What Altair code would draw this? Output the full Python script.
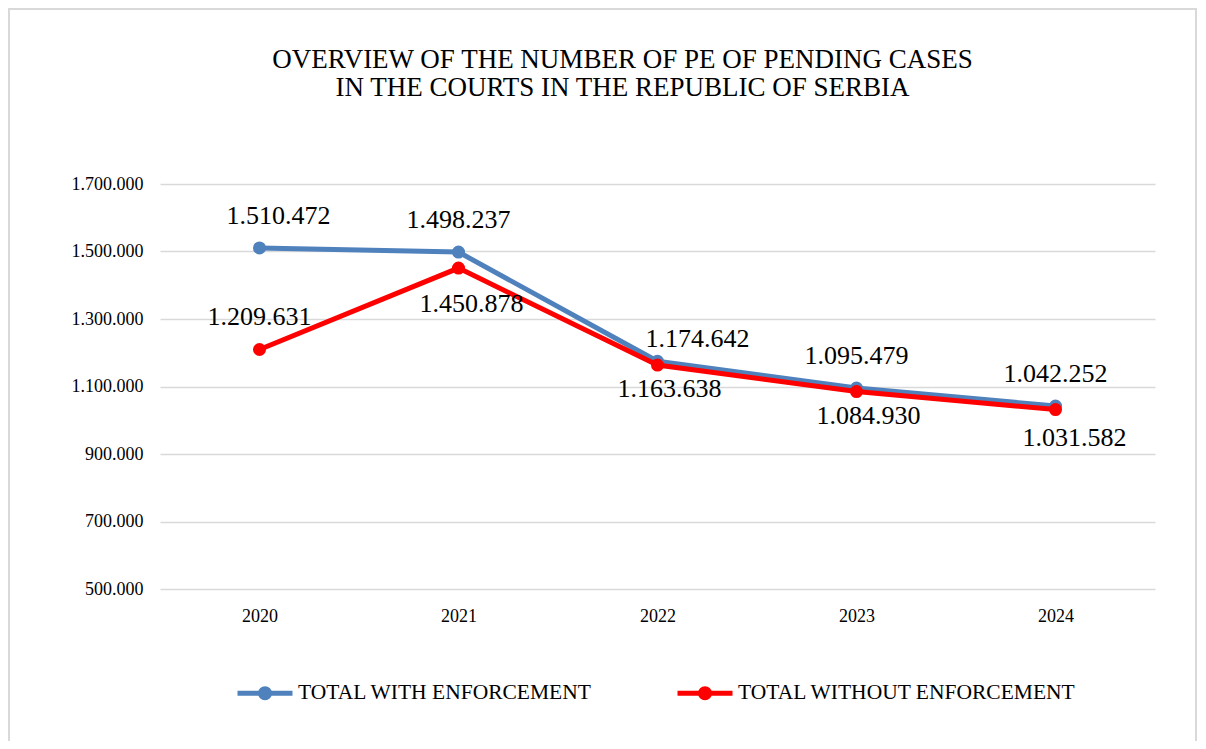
import altair as alt
import pandas as pd

years = ["2020", "2021", "2022", "2023", "2024"]
with_enforcement = [1510472, 1498237, 1174642, 1095479, 1042252]
without_enforcement = [1209631, 1450878, 1163638, 1084930, 1031582]
series_names = ["TOTAL WITH ENFORCEMENT", "TOTAL WITHOUT ENFORCEMENT"]
series_colors = ["#4F81BD", "#FF0000"]
y_ticks = [500000, 700000, 900000, 1100000, 1300000, 1500000, 1700000]
title_lines = ["OVERVIEW OF THE NUMBER OF PE OF PENDING CASES",
               "IN THE COURTS IN THE REPUBLIC OF SERBIA"]

rows = []
for name, vals in zip(series_names, [with_enforcement, without_enforcement]):
    for yr, v in zip(years, vals):
        rows.append({"year": yr, "value": v, "series": name})
df = pd.DataFrame(rows)

FONT = "Liberation Serif"
W, H = 995, 405

color = alt.Color(
    "series:N",
    scale=alt.Scale(domain=series_names, range=series_colors),
    legend=alt.Legend(
        title=None, orient="none", direction="horizontal",
        legendX=75, legendY=479, padding=0,
        symbolType="M-1,0L1,0M-0.09,0A0.09,0.09 0 1,1 0.09,0A0.09,0.09 0 1,1 -0.09,0M-0.165,0A0.165,0.165 0 1,1 0.165,0A0.165,0.165 0 1,1 -0.165,0",
        symbolSize=3025, symbolStrokeWidth=5, symbolFillColor="transparent",
        labelFont=FONT, labelFontSize=21.5, labelColor="#000000", labelLimit=600,
        labelOffset=3, columnPadding=74,
    ),
)
color_nolegend = alt.Color("series:N", scale=alt.Scale(domain=series_names, range=series_colors), legend=None)

x = alt.X("year:O", scale=alt.Scale(type="point", padding=0.5), title=None,
          axis=alt.Axis(labelAngle=0, domain=False, ticks=False, grid=False,
                        labelFont=FONT, labelFontSize=18, labelColor="#000000", labelPadding=18))
y = alt.Y("value:Q", scale=alt.Scale(domain=[500000, 1700000], nice=False, zero=False), title=None,
          axis=alt.Axis(values=y_ticks, domain=False, ticks=False, grid=True, gridColor="#d9d9d9",
                        gridWidth=1.5, labelFont=FONT, labelFontSize=18, labelColor="#000000",
                        labelPadding=17,
                        labelExpr="replace(replace(format(datum.value, ',d'), ',', '.'), ',', '.')"))

base = alt.Chart(df)

def series_layers(name, first):
    d = base.transform_filter(alt.datum.series == name)
    line = d.mark_line(strokeWidth=5).encode(x=x, y=y, color=color if first else color_nolegend)
    pts = d.mark_point(filled=True, size=170, opacity=1).encode(x=x, y=y, color=color_nolegend)
    return [line, pts]

def label_layer(name, yrs, dx, dy):
    yr_list = ",".join("'%s'" % v for v in yrs)
    expr = "datum.series === '%s' && indexof([%s], datum.year) >= 0" % (name, yr_list)
    return base.transform_filter(expr).transform_calculate(
        lab="replace(replace(format(datum.value, ',d'), ',', '.'), ',', '.')"
    ).mark_text(font=FONT, fontSize=26, color="#000000", baseline="middle", dx=dx, dy=dy).encode(
        x=x, y=y, text="lab:N")

frame = alt.Chart(pd.DataFrame({"a": [0]})).mark_rect(
    fill="transparent", stroke="#d9d9d9", strokeWidth=2
).encode(x=alt.value(-151), x2=alt.value(1036), y=alt.value(-175), y2=alt.value(600))

layers = [frame]
layers += series_layers(series_names[0], True)
layers += series_layers(series_names[1], False)
layers += [
    label_layer(series_names[0], ["2021", "2023", "2024"], 0, -32),
    label_layer(series_names[0], ["2020"], 19, -32),
    label_layer(series_names[0], ["2022"], 40, -22),
    label_layer(series_names[1], ["2020"], 0, -32),
    label_layer(series_names[1], ["2021"], 13, 36),
    label_layer(series_names[1], ["2022", "2023"], 12, 24),
    label_layer(series_names[1], ["2024"], 19, 28),
]

chart = alt.layer(*layers).properties(
    width=W, height=H,
    background="white",
    title=alt.TitleParams(text=title_lines, font=FONT, fontSize=27, fontWeight="normal",
                          color="#000000", anchor="middle", frame="group", dx=-35,
                          offset=-115, baseline="alphabetic", lineHeight=28),
    autosize=alt.AutoSizeParams(type="none"),
    padding={"left": 152, "top": 176, "right": 43, "bottom": 152},
).configure_view(stroke=None, strokeWidth=0)

chart.save("out.html", embed_options={"renderer": "svg", "actions": False})
